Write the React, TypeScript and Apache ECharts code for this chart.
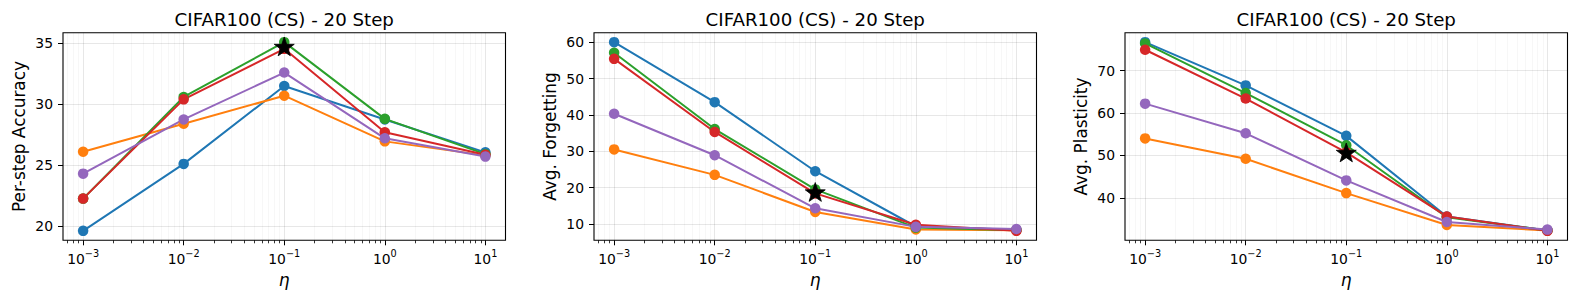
import React, { useEffect, useRef } from "react";
import * as echarts from "echarts";

// ---- data ----
const ETA = [0.001, 0.01, 0.1, 1, 10];
const X_MAJOR = [0.001, 0.01, 0.1, 1, 10];
const STAR_ETA = 0.1;

const TITLE = "CIFAR100 (CS) - 20 Step";
const Y_NAMES = ["Per-step Accuracy", "Avg. Forgetting", "Avg. Plasticity"];
const X_NAME = "η";

const COLORS = ["#1f77b4", "#ff7f0e", "#2ca02c", "#d62728", "#9467bd"];
const SERIES_NAMES = ["C0", "C1", "C2", "C3", "C4"];

const ACC_BLUE = [19.6, 25.1, 31.5, 28.75, 26.05];
const ACC_ORANGE = [26.1, 28.4, 30.7, 26.95, 25.8];
const ACC_GREEN = [22.25, 30.6, 35.1, 28.8, 25.9];
const ACC_RED = [22.25, 30.4, 34.55, 27.7, 25.85];
const ACC_PURPLE = [24.3, 28.75, 32.6, 27.2, 25.7];
const ACC_STAR = 34.75;
const ACC_TICKS = [20, 25, 30, 35];

const FGT_BLUE = [60.0, 43.5, 24.5, 9.3, 8.4];
const FGT_ORANGE = [30.5, 23.5, 13.3, 8.5, 8.3];
const FGT_GREEN = [57.1, 36.1, 19.5, 9.0, 8.3];
const FGT_RED = [55.4, 35.3, 18.4, 9.8, 8.1];
const FGT_PURPLE = [40.3, 28.9, 14.3, 9.2, 8.6];
const FGT_STAR = 18.8;
const FGT_TICKS = [10, 20, 30, 40, 50, 60];

const PLA_BLUE = [76.7, 66.5, 54.6, 35.6, 32.3];
const PLA_ORANGE = [54.0, 49.2, 41.1, 33.6, 32.3];
const PLA_GREEN = [76.4, 64.7, 52.4, 35.4, 32.3];
const PLA_RED = [74.9, 63.4, 50.7, 35.6, 32.2];
const PLA_PURPLE = [62.2, 55.2, 44.1, 34.3, 32.5];
const PLA_STAR = 50.7;
const PLA_TICKS = [40, 50, 60, 70];

// ---- layout / style ----
const FONT = "DejaVu Sans";
const GRID_LEFT = [63, 594, 1125];
const GRID_TOP = 32.7;
const GRID_W = 442.5;
const GRID_H = 207.6;
const X_MIN = -3.2;
const X_MAX = 1.2;
const STAR_PATH =
  "path://M50,0 L61.8,35.1 L98.1,35.1 L69,56.9 L79.4,90.5 L50,70.4 L20.6,90.5 L31,56.9 L1.9,35.1 L38.2,35.1 Z";

const MINUS = "−";

function minorTicks(): number[] {
  const out: number[] = [];
  for (let k = -4; k <= 1; k++) {
    for (let m = 2; m <= 9; m++) {
      const v = Math.log10(m) + k;
      if (v > X_MIN && v < X_MAX) out.push(v);
    }
  }
  return out;
}

function buildOption() {
  const panels = [
    { name: Y_NAMES[0], lines: [ACC_BLUE, ACC_ORANGE, ACC_GREEN, ACC_RED, ACC_PURPLE], star: ACC_STAR, ticks: ACC_TICKS },
    { name: Y_NAMES[1], lines: [FGT_BLUE, FGT_ORANGE, FGT_GREEN, FGT_RED, FGT_PURPLE], star: FGT_STAR, ticks: FGT_TICKS },
    { name: Y_NAMES[2], lines: [PLA_BLUE, PLA_ORANGE, PLA_GREEN, PLA_RED, PLA_PURPLE], star: PLA_STAR, ticks: PLA_TICKS },
  ];
  const xMajor = X_MAJOR.map((v) => Math.round(Math.log10(v)));
  const xMinor = minorTicks();
  const X = ETA.map((v) => Math.log10(v));

  const grid: any[] = [];
  const xAxis: any[] = [];
  const yAxis: any[] = [];
  const series: any[] = [];
  const graphic: any[] = [];

  panels.forEach((p, i) => {
    grid.push({
      left: GRID_LEFT[i],
      top: GRID_TOP,
      width: GRID_W,
      height: GRID_H,
      show: true,
      borderColor: "#000",
      borderWidth: 1.1,
      backgroundColor: "transparent",
      containLabel: false,
      outerBoundsMode: "none",
    });
    graphic.push({
      type: "text",
      x: GRID_LEFT[i] + GRID_W / 2,
      y: 19,
      style: {
        text: TITLE,
        fontFamily: FONT,
        fontSize: 18.2,
        fill: "#000",
        align: "center",
        verticalAlign: "middle",
      },
    });
    xAxis.push({
      type: "value",
      gridIndex: i,
      min: X_MIN,
      max: X_MAX,
      position: "bottom",
      name: X_NAME,
      nameLocation: "middle",
      nameGap: 27,
      nameTextStyle: { fontFamily: FONT, fontSize: 17, fontStyle: "italic", color: "#000" },
      axisLine: { show: false, onZero: false },
      axisTick: { show: true, length: 5, lineStyle: { color: "#000", width: 1 }, customValues: xMajor },
      axisLabel: {
        customValues: xMajor,
        margin: 8,
        formatter: (v: number) => {
          const e = String(Math.round(v)).replace("-", MINUS);
          return `{b|10}{s|${e}}`;
        },
        rich: {
          b: { fontFamily: FONT, fontSize: 13.9, color: "#000", lineHeight: 18, verticalAlign: "bottom" },
          s: { fontFamily: FONT, fontSize: 9.7, color: "#000", lineHeight: 11, verticalAlign: "top" },
        },
      },
      splitLine: { show: true, lineStyle: { color: "rgba(0,0,0,0.12)", width: 0.8 } },
    });
    xAxis.push({
      type: "value",
      gridIndex: i,
      min: X_MIN,
      max: X_MAX,
      position: "bottom",
      axisLine: { show: false, onZero: false },
      axisLabel: { show: false },
      axisTick: { show: true, length: 3, lineStyle: { color: "#000", width: 0.8 }, customValues: xMinor },
      splitLine: { show: true, lineStyle: { color: "rgba(0,0,0,0.06)", width: 0.6 } },
    });
    const all = ([] as number[]).concat(...p.lines, [p.star]);
    const dmin = Math.min(...all);
    const dmax = Math.max(...all);
    const pad = (dmax - dmin) * 0.05;
    yAxis.push({
      type: "value",
      gridIndex: i,
      min: dmin - pad,
      max: dmax + pad,
      position: "left",
      name: p.name,
      nameLocation: "middle",
      nameGap: 36,
      nameRotate: 90,
      nameTextStyle: { fontFamily: FONT, fontSize: 16.9, color: "#000" },
      axisLine: { show: false, onZero: false },
      axisTick: { show: true, length: 5, lineStyle: { color: "#000", width: 1 }, customValues: p.ticks },
      axisLabel: { customValues: p.ticks, margin: 10, fontFamily: FONT, fontSize: 13.9, color: "#000" },
      splitLine: { show: true, lineStyle: { color: "rgba(0,0,0,0.12)", width: 0.8 } },
    });
    p.lines.forEach((arr, k) => {
      series.push({
        type: "line",
        name: SERIES_NAMES[k],
        xAxisIndex: 2 * i,
        yAxisIndex: i,
        data: X.map((x, j) => [x, arr[j]]),
        symbol: "circle",
        symbolSize: 10.5,
        showSymbol: true,
        lineStyle: { width: 2, color: COLORS[k] },
        itemStyle: { color: COLORS[k], opacity: 1 },
        silent: true,
        z: 2,
      });
    });
    series.push({
      type: "scatter",
      name: "best",
      xAxisIndex: 2 * i,
      yAxisIndex: i,
      data: [[Math.log10(STAR_ETA), p.star]],
      symbol: STAR_PATH,
      symbolSize: 20,
      symbolKeepAspect: true,
      itemStyle: { color: "#000", borderColor: "#000", borderWidth: 0.8, opacity: 1 },
      silent: true,
      z: 5,
    });
  });

  return {
    animation: false,
    backgroundColor: "#fff",
    grid,
    xAxis,
    yAxis,
    series,
    graphic,
  };
}

export default function App() {
  const ref = useRef<HTMLDivElement>(null);
  useEffect(() => {
    const chart = echarts.init(ref.current!, null, { renderer: "svg" });
    chart.setOption(buildOption() as any);
    return () => chart.dispose();
  }, []);
  return (
    <div
      ref={ref}
      style={{ position: "fixed", left: 0, top: 0, width: 1578, height: 302 }}
    />
  );
}
